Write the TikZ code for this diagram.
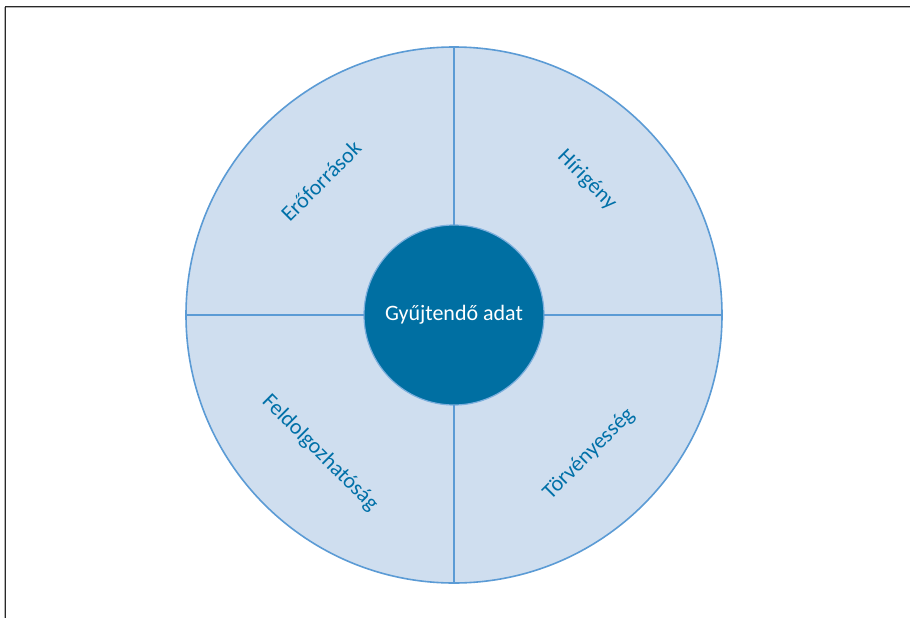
\documentclass[tikz,border=0pt]{standalone}
\usepackage{fontspec}
\setmainfont{Carlito}
\definecolor{sectorfill}{RGB}{207,222,239}
\definecolor{sectorline}{RGB}{91,155,213}
\definecolor{corefill}{RGB}{0,111,162}
\definecolor{labeltext}{RGB}{0,112,168}
\definecolor{frameline}{RGB}{40,40,40}
\tikzset{
  sectorlabel/.style={text=labeltext, font=\fontsize{22}{26}\selectfont, inner sep=0pt},
  divider/.style={draw=sectorline, line width=1.6pt},
}
\begin{document}
\begin{tikzpicture}[x=1pt,y=-1pt]
\useasboundingbox (0,0) rectangle (910,618);
\fill[white] (0,0) rectangle (910,618);
% frame
\draw[gray!60, line width=1pt] (4.5,618) -- (4.5,7.5) -- (910,7.5);
\draw[frameline, line width=1.6pt] (5.6,618) -- (5.6,6.6) -- (910,6.6);
% outer circle
\node[circle, draw=sectorline, fill=sectorfill, line width=1.6pt, minimum size=536pt, inner sep=0pt, outer sep=0pt] (outer) at (454,315) {};
% inner circle
\node[circle, draw=sectorline!80, fill=corefill, line width=1.2pt, minimum size=180pt, inner sep=0pt, outer sep=0pt, text=white, font=\fontsize{22}{26}\selectfont] (core) at (454,315) {Gyűjtendő adat};
% dividers
\draw[divider] (outer.north) -- (core.north);
\draw[divider] (core.south) -- (outer.south);
\draw[divider] (outer.west) -- (core.west);
\draw[divider] (core.east) -- (outer.east);
% labels
\node[sectorlabel, rotate=45] (l1) at (321,181) {Erőforrások};
\node[sectorlabel, rotate=-45] (l2) at (587,180) {Hírigény};
\node[sectorlabel, rotate=-45] (l3) at (320,453) {Feldolgozhatóság};
\node[sectorlabel, rotate=45] (l4) at (589,454) {Törvényesség};
\end{tikzpicture}
\end{document}
